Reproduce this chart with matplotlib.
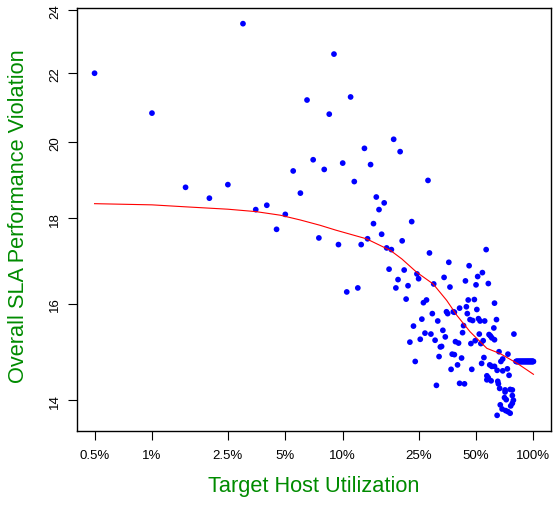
import matplotlib
matplotlib.use("Agg")
import matplotlib.pyplot as plt
from matplotlib.ticker import FixedLocator, FixedFormatter, NullLocator
import numpy as np

plt.rcParams['font.family'] = ['Liberation Sans', 'DejaVu Sans']

# Target host utilization (%) and measured overall SLA performance violation
util = [
    0.5, 1.0, 1.5, 2.0, 2.5, 3.0, 3.5, 4.0, 4.5, 5.0,
    5.5, 6.0, 6.5, 7.0, 7.5, 8.0, 8.5, 9.0, 9.5, 10.0,
    10.5, 11.0, 11.5, 12.0, 12.5, 13.0, 13.5, 14.0, 14.5, 15.0,
    15.5, 16.0, 16.5, 17.0, 17.5, 18.0, 18.5, 19.0, 19.5, 20.0,
    20.5, 21.0, 21.5, 22.0, 22.5, 23.0, 23.5, 24.0, 24.5, 25.0,
    25.5, 26.0, 26.5, 27.0, 27.5, 28.0, 28.5, 29.0, 29.5, 30.0,
    30.5, 31.0, 31.5, 32.0, 32.5, 33.0, 33.5, 34.0, 34.5, 35.0,
    35.5, 36.0, 36.5, 37.0, 37.5, 38.0, 38.5, 38.5, 39.0, 40.0,
    40.5, 41.0, 41.0, 42.0, 42.5, 43.0, 43.5, 44.0, 44.5, 45.0,
    45.5, 46.0, 46.5, 47.0, 47.5, 48.0, 49.0, 49.5, 50.0, 50.5,
    51.0, 51.5, 52.0, 52.5, 53.0, 53.5, 54.0, 54.5, 55.0, 55.5,
    56.5, 57.0, 57.0, 58.0, 58.0, 58.5, 59.0, 59.5, 60.0, 60.5,
    60.5, 62.0, 62.5, 62.5, 62.5, 64.0, 64.5, 65.0, 64.5, 65.5,
    66.0, 66.5, 67.0, 67.5, 68.5, 69.0, 69.0, 70.5, 71.0, 71.0,
    71.5, 72.0, 73.0, 73.5, 73.5, 74.5, 75.5, 75.5, 76.0, 77.5,
    77.5, 77.5, 78.5, 79.0,
    81.0, 81.5, 82.0, 82.5, 83.0, 83.5, 84.0, 84.5, 85.0, 85.5,
    86.0, 86.5, 87.0, 87.5, 88.0, 88.5, 89.0, 89.5, 90.0, 90.5,
    91.0, 91.5, 92.0, 92.5, 93.0, 93.5, 94.0, 94.5, 95.0, 95.5,
    96.0, 96.5, 97.0, 97.5, 98.0, 98.5, 99.0, 99.5, 100.0,
]
sla = [
    22.00, 20.82, 18.79, 18.51, 18.86, 23.56, 18.22, 18.33, 17.73, 18.10,
    19.22, 18.64, 21.20, 19.52, 17.52, 19.26, 20.79, 22.59, 17.36, 19.43,
    16.26, 21.29, 18.94, 16.35, 17.36, 19.83, 17.50, 19.39, 17.87, 18.54,
    18.22, 17.61, 18.39, 17.28, 16.78, 17.24, 20.08, 16.35, 16.54, 19.74,
    17.45, 16.76, 16.10, 16.40, 15.17, 17.92, 15.51, 14.77, 16.67, 16.56,
    15.23, 15.66, 16.02, 15.36, 16.08, 18.97, 17.16, 15.34, 15.78, 16.44,
    15.21, 14.29, 15.62, 14.87, 15.07, 15.08, 15.42, 16.59, 15.28, 15.82,
    15.78, 16.94, 16.37, 14.61, 14.92, 15.82, 15.81, 14.91, 15.18, 14.70,
    15.15, 15.90, 14.33, 14.84, 15.37, 15.52, 14.32, 16.51, 15.93, 15.78,
    16.08, 16.86, 15.65, 15.14, 14.61, 15.63, 16.09, 15.20, 16.42, 15.87,
    16.61, 15.67, 15.34, 15.62, 15.14, 14.73, 16.70, 15.20, 14.85, 15.62,
    17.24, 14.40, 14.48, 16.45, 14.44, 15.33, 14.70, 15.30, 14.38, 15.26,
    14.67, 15.47, 14.67, 16.01, 15.22, 15.65, 14.59, 14.37, 13.71, 14.32,
    14.97, 14.23, 13.91, 14.77, 13.83, 14.82, 14.58, 14.05, 14.16, 14.20,
    13.80, 14.01, 14.62, 14.92, 13.78, 14.49, 14.21, 13.75, 13.89, 14.09,
    13.94, 14.20, 14.00, 15.34,
    14.77, 14.77, 14.77, 14.77, 14.77, 14.77, 14.77, 14.77, 14.77, 14.77,
    14.77, 14.77, 14.77, 14.77, 14.77, 14.77, 14.77, 14.77, 14.77, 14.77,
    14.77, 14.77, 14.77, 14.77, 14.77, 14.77, 14.77, 14.77, 14.77, 14.77,
    14.77, 14.77, 14.77, 14.77, 14.77, 14.77, 14.77, 14.77, 14.77,
]

# Smoothed trend
fit_util = [0.5, 1.0, 1.5, 2.5, 3.5, 4.7, 6.0, 7.6, 9.2, 13.3, 17.8, 20.4, 24.4,
            29.8, 35.1, 39.7, 46.5, 57.0, 67.0, 82.3, 100.0]
fit_sla = [18.37, 18.34, 18.29, 18.23, 18.17, 18.08, 17.96, 17.83, 17.71, 17.50,
           17.22, 17.02, 16.71, 16.44, 16.07, 15.74, 15.39, 15.04, 14.93, 14.73, 14.51]

x_ticks = [0.5, 1, 2.5, 5, 10, 25, 50, 100]
x_labels = ["0.5%", "1%", "2.5%", "5%", "10%", "25%", "50%", "100%"]
y_ticks = [14, 16, 18, 20, 22, 24]
y_labels = ["14", "16", "18", "20", "22", "24"]

W, H = 555, 506
fig = plt.figure(figsize=(W / 100, H / 100), dpi=100)
ax = fig.add_axes([77 / W, 1 - 432 / H, (551 - 77) / W, (432 - 9) / H])

ax.set_xscale('log')
ax.set_yscale('log')

ax.scatter(util, sla, s=17, color='#0000FF', edgecolors='none', zorder=3)
ax.plot(fit_util, fit_sla, color='#FF0000', lw=0.8, zorder=4)

# 4% padding on each side in log space
def padded(lo, hi, frac=0.04):
    llo, lhi = np.log10(lo), np.log10(hi)
    d = (lhi - llo) * frac
    return 10 ** (llo - d), 10 ** (lhi + d)

ax.set_xlim(*padded(min(util), max(util)))
ax.set_ylim(*padded(min(sla), max(sla)))

ax.xaxis.set_major_locator(FixedLocator(x_ticks))
ax.xaxis.set_major_formatter(FixedFormatter(x_labels))
ax.xaxis.set_minor_locator(NullLocator())
ax.yaxis.set_major_locator(FixedLocator(y_ticks))
ax.yaxis.set_major_formatter(FixedFormatter(y_labels))
ax.yaxis.set_minor_locator(NullLocator())

ax.tick_params(axis='both', direction='out', length=6.2, width=0.8,
               colors='black', labelsize=9.5)
ax.tick_params(axis='x', pad=7)
ax.tick_params(axis='y', pad=5)
for lab in ax.get_yticklabels():
    lab.set_rotation(90)
    lab.set_va('center')

for sp in ax.spines.values():
    sp.set_linewidth(1.0)
    sp.set_color('black')

green = '#008B00'
fig.text(314 / W, 1 - 487 / H, "Target Host Utilization", color=green,
         fontsize=15.7, ha='center', va='center')
fig.text(19 / W, 1 - 216 / H, "Overall SLA Performance Violation", color=green,
         fontsize=15.7, ha='center', va='center', rotation=90)

fig.savefig("out.png", dpi=100, facecolor='white')
